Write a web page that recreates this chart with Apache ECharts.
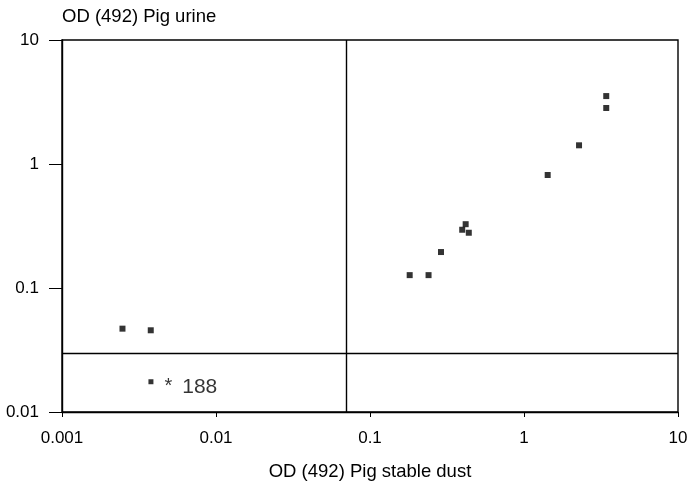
<!DOCTYPE html>
<html>
<head>
<meta charset="utf-8">
<script src="https://cdn.jsdelivr.net/npm/echarts@6/dist/echarts.min.js"></script>
<style>
html,body{margin:0;padding:0;background:#fff;}
#c{width:690px;height:481px;}
</style>
</head>
<body>
<div id="c"></div>
<script>
// Stable dust OD (x) vs urine OD (y)
var dustOD  = [0.00247, 0.00377, 0.181, 0.240, 0.289, 0.397, 0.418, 0.438, 1.425, 2.277, 3.42, 3.42];
var urineOD = [0.047,   0.0456,  0.127, 0.127, 0.195, 0.295, 0.327, 0.279, 0.815, 1.415, 2.83, 3.53];
// Marked outlier sample 188
var outlierX = [0.00378];
var outlierY = [0.01754];
var outlierLabel = ['188'];
// cut-off lines
var cutoffX = 0.072;
var cutoffY = 0.0305;
var xTicks = ['0.001', '0.01', '0.1', '1', '10'];
var yTicks = ['0.01', '0.1', '1', '10'];

var font = 'Liberation Sans, Arial, sans-serif';
function fmtX(v){ var e = Math.round(Math.log10(v)); return xTicks[e + 3]; }
function fmtY(v){ var e = Math.round(Math.log10(v)); return yTicks[e + 2]; }

var chart = echarts.init(document.getElementById('c'), null, {renderer: 'canvas'});
chart.setOption({
  animation: false,
  backgroundColor: '#fff',
  grid: {left: 62, right: 12, top: 40, bottom: 69, containLabel: false, outerBoundsMode: 'none',
         show: true, borderColor: '#000', borderWidth: 1.4, backgroundColor: 'transparent'},
  xAxis: {
    type: 'log', logBase: 10, min: 0.001, max: 10,
    name: 'OD (492) Pig stable dust', nameLocation: 'middle', nameGap: 50,
    nameTextStyle: {fontFamily: font, fontSize: 18.5, color: '#000'},
    axisLine: {show: true, onZero: false, lineStyle: {color: '#000', width: 1.4}},
    axisTick: {show: true, length: 5, lineStyle: {color: '#000'}},
    minorTick: {show: false},
    splitLine: {show: false},
    axisLabel: {formatter: fmtX, fontFamily: font, fontSize: 17, color: '#000', margin: 18}
  },
  yAxis: {
    type: 'log', logBase: 10, min: 0.01, max: 10,
    name: 'OD (492) Pig urine', nameLocation: 'end', nameGap: 14,
    nameTextStyle: {fontFamily: font, fontSize: 18.5, color: '#000', align: 'left'},
    axisLine: {show: true, onZero: false, lineStyle: {color: '#000', width: 1.4}},
    axisTick: {show: true, length: 13, lineStyle: {color: '#000'}},
    splitLine: {show: false},
    axisLabel: {formatter: fmtY, fontFamily: font, fontSize: 17, color: '#000', margin: 23}
  },
  series: [
    {
      type: 'scatter',
      symbol: 'rect', symbolSize: 6,
      itemStyle: {color: '#000'},
      data: dustOD.map(function(x, i){ return [x, urineOD[i]]; }),
      markLine: {
        silent: true, symbol: 'none', label: {show: false},
        lineStyle: {color: '#000', width: 1.4, type: 'solid'},
        data: [{xAxis: cutoffX}, {yAxis: cutoffY}]
      }
    },
    {
      type: 'scatter',
      symbol: 'rect', symbolSize: 5,
      itemStyle: {color: '#000'},
      data: outlierX.map(function(x, i){ return {value: [x, outlierY[i]], name: outlierLabel[i]}; }),
      label: {
        show: true, position: 'right', distance: 11, offset: [0, 5],
        formatter: function(p){ return '{a|*}{b|' + p.name + '}'; },
        rich: {
          a: {fontFamily: font, fontSize: 20, color: '#000', padding: [0, 10, 0, 0]},
          b: {fontFamily: font, fontSize: 21, color: '#000'}
        }
      }
    }
  ]
});
</script>
</body>
</html>
